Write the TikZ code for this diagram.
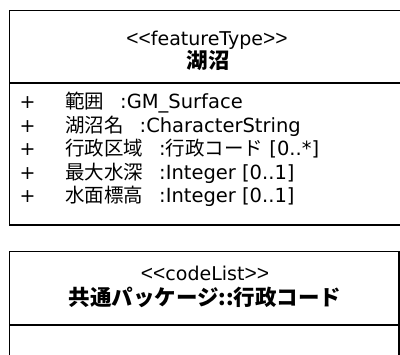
\documentclass[tikz,border=0pt]{standalone}
\usepackage{fontspec}
\setmainfont{DejaVu Sans}
\newfontfamily\jp{Noto Sans CJK JP}
\newfontfamily\lt{Liberation Sans}
\newcommand{\lal}{{\lt\fontsize{21}{21}\selectfont<}}
\newcommand{\ral}{{\lt\fontsize{21}{21}\selectfont>}}
\begin{document}
\begin{tikzpicture}[x=1pt,y=-1pt,
  boxline/.style={line width=1.8pt,draw=black},
  stereo/.style={inner sep=0pt,anchor=base,font=\fontsize{19}{19}\selectfont},
  cname/.style={inner sep=0pt,anchor=center,font=\fontsize{21.5}{21.5}\selectfont\bfseries\jp},
  attr/.style={inner sep=0pt,anchor=base west,font=\fontsize{19.5}{19.5}\selectfont},
  plus/.style={inner sep=0pt,anchor=base,font=\fontsize{19}{19}\selectfont}]
\useasboundingbox (0,0) rectangle (400,355);
\clip (0,0) rectangle (400,355);
% box 1
\draw[boxline] (9.5,10.5) rectangle (403,225);
\draw[boxline] (9.5,83) -- (403,83);
\node[stereo] (s1) at (207,46) {\lal\lal featureType\ral\ral};
\node[cname] (n1) at (208,61) {湖沼};
\foreach \i/\y/\t in {1/109/{{\jp 範囲}\hspace{16pt}:GM\_Surface},
                      2/132.5/{{\jp 湖沼名}\hspace{16pt}:CharacterString},
                      3/156/{{\jp 行政区域}\hspace{16pt}:{\jp 行政コード} [0..*]},
                      4/179.5/{{\jp 最大水深}\hspace{16pt}:Integer [0..1]},
                      5/203/{{\jp 水面標高}\hspace{16pt}:Integer [0..1]}}{
  \node[plus] (p\i) at (27.5,\y) {+};
  \node[attr] (a\i) at (65,\y) {\t};
}
% box 2
\draw[boxline] (9.5,251.5) rectangle (399,370);
\draw[boxline] (9.5,325) -- (399,325);
\node[stereo] (s2) at (205,281) {\lal\lal codeList\ral\ral};
\node[cname] (n2) at (205,297) {共通パッケージ::行政コード};
\end{tikzpicture}
\end{document}
